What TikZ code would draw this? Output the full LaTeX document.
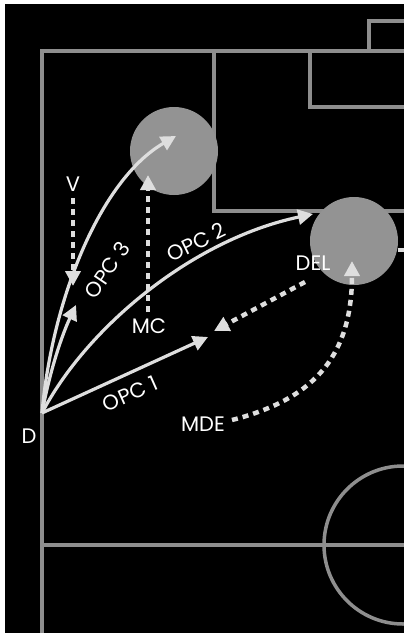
\documentclass[tikz,border=0pt]{standalone}
\usepackage{fontspec}
\setmainfont{Poppins}
\usetikzlibrary{arrows.meta}
\definecolor{pitch}{HTML}{8E8E8E}
\definecolor{player}{HTML}{939393}
\definecolor{arr}{HTML}{DEDEDE}
\tikzset{
  pitchline/.style={draw=pitch, line width=3.5pt},
  playerdot/.style={circle, fill=player, minimum size=88pt, inner sep=0pt},
  lbl/.style={text=white, inner sep=0pt, font=\fontsize{21}{24}\selectfont},
  pass/.style={draw=arr, line width=3.2pt, -{Triangle[length=15pt,width=15pt]}},
  run/.style={draw=arr, line width=4.5pt, dash pattern=on 6pt off 5pt, -{Triangle[length=15pt,width=15pt]}}
}
\begin{document}
\begin{tikzpicture}[x=1pt,y=-1pt]
\useasboundingbox (0,0) rectangle (404,635);
\fill[white] (0,0) rectangle (404,635);
\fill[black] (5,4) rectangle (404,633);
% pitch lines
\draw[pitchline] (42,633) -- (42,51) -- (404,51);
\draw[pitchline] (214,51) -- (214,211) -- (404,211);
\draw[pitchline] (310,51) -- (310,107) -- (404,107);
\draw[pitchline] (369,51) -- (369,21) -- (404,21);
\draw[pitchline] (42,545) -- (404,545);
\draw[pitchline] (403,545) circle[radius=79];
% players
\node[playerdot] (p1) at (174,151) {};
\node[playerdot] (p2) at (354,241) {};
\coordinate (edge) at (404,250);
\draw[arr, line width=3.5pt] (edge -| p2.east) -- (edge);
% coordinates
\coordinate (D) at (42,413);
\coordinate (t1) at (208,337);
\coordinate (t2) at (313,214);
\coordinate (t3) at (176,136);
\coordinate (t4) at (76,305);
\coordinate (vs) at (73,198);
\coordinate (ve) at (73,286);
\coordinate (ms) at (148,312);
\coordinate (me) at (148,175);
\coordinate (ds) at (305,282);
\coordinate (de) at (214,331);
\coordinate (mdes) at (232,420);
\coordinate (mdee) at (352,261);
% labels
\node[lbl] (lD) at (29,436) {D};
\node[lbl] (lV) at (73,184) {V};
\node[lbl] (lMC) at (149,326) {MC};
\node[lbl] (lDEL) at (313,263) {DEL};
\node[lbl] (lMDE) at (203,424) {MDE};
\node[lbl, rotate=24] (lo1) at (130,394) {OPC 1};
\node[lbl, rotate=26] (lo2) at (196,242) {OPC 2};
\node[lbl, rotate=56] (lo3) at (107,270) {OPC 3};
% passes
\draw[pass] (D) -- (t1);
\draw[pass] (D) .. controls (85,330) and (190,240) .. (t2);
\draw[pass] (D) .. controls (52,300) and (100,180) .. (t3);
\draw[pass] (D) .. controls (50,370) and (62,335) .. (t4);
% runs
\draw[run] (vs) -- (ve);
\draw[run] (ms) -- (me);
\draw[run] (ds) -- (de);
\draw[run] (mdes) .. controls (310,400) and (352,360) .. (mdee);
\end{tikzpicture}
\end{document}
